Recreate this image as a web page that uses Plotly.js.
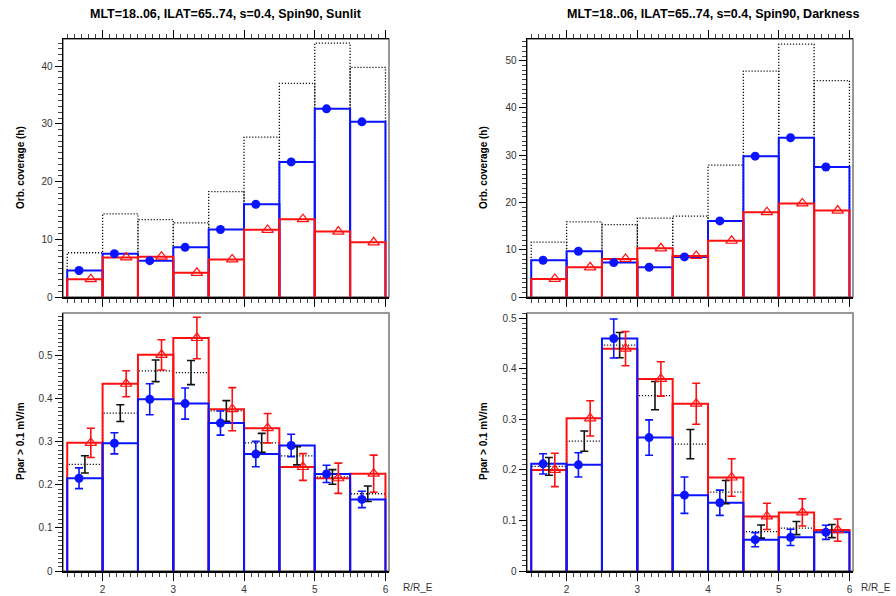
<!DOCTYPE html>
<html>
<head>
<meta charset="utf-8">
<script src="https://cdn.plot.ly/plotly-3.0.1.min.js"></script>
<style>html,body{margin:0;padding:0;background:#fff;}#chart{width:896px;height:596px;}</style>
</head>
<body>
<div id="chart"></div>
<script>
// ---- data ----
const binEdges = [1.5, 2, 2.5, 3, 3.5, 4, 4.5, 5, 5.5, 6];
const xTickVals = [2, 3, 4, 5, 6];

// Sunlit: orbital coverage (h)
const covTotalSun = [7.67, 14.4, 13.4, 12.85, 18.26, 27.7, 37.0, 44.0, 39.8];
const covBlueSun  = [4.6, 7.5, 6.3, 8.6, 11.7, 16.05, 23.4, 32.6, 30.35];
const covRedSun   = [3.08, 6.86, 6.98, 4.19, 6.51, 11.63, 13.49, 11.34, 9.48];
// Darkness: orbital coverage (h)
const covTotalDark = [11.6, 15.9, 15.3, 16.7, 17.1, 27.9, 47.8, 53.5, 45.8];
const covBlueDark  = [7.78, 9.69, 7.28, 6.29, 8.49, 16.1, 29.8, 33.7, 27.5];
const covRedDark   = [3.82, 6.29, 8.06, 10.3, 8.7, 11.9, 17.96, 19.8, 18.3];

// Sunlit: Ppar > 0.1 mV/m
const pTotalSun    = [0.247, 0.366, 0.464, 0.460, 0.371, 0.297, 0.267, 0.218, 0.179];
const pTotalSunErr = [0.020, 0.0195, 0.025, 0.028, 0.024, 0.022, 0.021, 0.017, 0.018];
const pBlueSun     = [0.215, 0.296, 0.398, 0.388, 0.343, 0.271, 0.291, 0.225, 0.166];
const pBlueSunErr  = [0.024, 0.0245, 0.036, 0.036, 0.028, 0.0295, 0.026, 0.020, 0.019];
const pRedSun      = [0.297, 0.434, 0.501, 0.540, 0.375, 0.331, 0.241, 0.215, 0.2255];
const pRedSunErr   = [0.034, 0.030, 0.035, 0.048, 0.050, 0.034, 0.031, 0.035, 0.043];
// Darkness: Ppar > 0.1 mV/m
const pTotalDark    = [0.207, 0.257, 0.447, 0.347, 0.251, 0.156, 0.078, 0.085, 0.079];
const pTotalDarkErr = [0.0175, 0.020, 0.025, 0.028, 0.029, 0.023, 0.013, 0.013, 0.013];
const pBlueDark     = [0.212, 0.210, 0.460, 0.264, 0.150, 0.135, 0.062, 0.0666, 0.0765];
const pBlueDarkErr  = [0.020, 0.024, 0.0385, 0.035, 0.036, 0.025, 0.014, 0.016, 0.014];
const pRedDark      = [0.200, 0.302, 0.440, 0.380, 0.331, 0.185, 0.108, 0.116, 0.081];
const pRedDarkErr   = [0.033, 0.035, 0.034, 0.034, 0.0405, 0.037, 0.026, 0.027, 0.022];

const titleSun  = 'MLT=18..06, ILAT=65..74, s=0.4, Spin90, Sunlit';
const titleDark = 'MLT=18..06, ILAT=65..74, s=0.4, Spin90, Darkness';
const yTitleCov = 'Orb. coverage (h)';
const yTitleP   = 'Ppar > 0.1 mV/m';
const xUnit     = 'R/R_E';

// ---- helpers ----
const BLUE = '#0a14ff', RED = '#ff1010', BLACK = '#111111';

function boxes(vals, color, dash, width, xa, ya) {
  const xs = [], ys = [];
  vals.forEach((v, i) => {
    const l = binEdges[i], r = binEdges[i + 1];
    xs.push(l, l, r, r, null);
    ys.push(0, v, v, 0, null);
  });
  return {type: 'scatter', mode: 'lines', x: xs, y: ys, xaxis: xa, yaxis: ya,
    line: {color: color, width: width, dash: dash}, hoverinfo: 'skip', showlegend: false, connectgaps: false};
}
function binPos(frac) {
  return binEdges.slice(0, -1).map((l, i) => l + frac * (binEdges[i + 1] - l));
}
function pts(vals, errs, frac, color, symbol, xa, ya, size, lw) {
  const t = {type: 'scatter', mode: 'markers', x: binPos(frac), y: vals, xaxis: xa, yaxis: ya,
    showlegend: false, hoverinfo: 'skip',
    marker: {color: color, size: size, symbol: symbol, line: {color: color, width: lw}}};
  if (errs) t.error_y = {type: 'data', array: errs, visible: true, color: color, thickness: 1.6, width: 4};
  return t;
}
function errOnly(vals, errs, frac, color, xa, ya) {
  return {type: 'scatter', mode: 'markers', x: binPos(frac), y: vals, xaxis: xa, yaxis: ya,
    showlegend: false, hoverinfo: 'skip', marker: {size: 1, color: 'rgba(0,0,0,0)'},
    error_y: {type: 'data', array: errs, visible: true, color: color, thickness: 1.6, width: 4}};
}
const DOT = '1.2px,1.8px';
function circ(v, e, xa, ya) { return pts(v, e, 1/3, BLUE, 'circle', xa, ya, 9, 0); }
function tri(v, e, xa, ya) { return pts(v, e, 2/3, RED, 'triangle-up-open', xa, ya, 10, 1.2); }

const traces = [
  // top-left
  boxes(covTotalSun, BLACK, DOT, 1.3, 'x', 'y'),
  boxes(covBlueSun, BLUE, 'solid', 2, 'x', 'y'),
  boxes(covRedSun, RED, 'solid', 2, 'x', 'y'),
  circ(covBlueSun, null, 'x', 'y'),
  tri(covRedSun, null, 'x', 'y'),
  // top-right
  boxes(covTotalDark, BLACK, DOT, 1.3, 'x2', 'y2'),
  boxes(covBlueDark, BLUE, 'solid', 2, 'x2', 'y2'),
  boxes(covRedDark, RED, 'solid', 2, 'x2', 'y2'),
  circ(covBlueDark, null, 'x2', 'y2'),
  tri(covRedDark, null, 'x2', 'y2'),
  // bottom-left
  boxes(pTotalSun, BLACK, DOT, 1.3, 'x3', 'y3'),
  boxes(pRedSun, RED, 'solid', 2, 'x3', 'y3'),
  boxes(pBlueSun, BLUE, 'solid', 2, 'x3', 'y3'),
  errOnly(pTotalSun, pTotalSunErr, 1/2, BLACK, 'x3', 'y3'),
  circ(pBlueSun, pBlueSunErr, 'x3', 'y3'),
  tri(pRedSun, pRedSunErr, 'x3', 'y3'),
  // bottom-right
  boxes(pTotalDark, BLACK, DOT, 1.3, 'x4', 'y4'),
  boxes(pRedDark, RED, 'solid', 2, 'x4', 'y4'),
  boxes(pBlueDark, BLUE, 'solid', 2, 'x4', 'y4'),
  errOnly(pTotalDark, pTotalDarkErr, 1/2, BLACK, 'x4', 'y4'),
  circ(pBlueDark, pBlueDarkErr, 'x4', 'y4'),
  tri(pRedDark, pRedDarkErr, 'x4', 'y4'),
];

const W = 896, H = 596;
const tickFont = {family: 'Liberation Sans, Arial, sans-serif', size: 10, color: '#333'};
const domL = [63 / W, 389 / W], domR = [527 / W, 853 / W];
const domTop = [(H - 297) / H, (H - 39) / H], domBot = [(H - 571) / H, (H - 313) / H];

function xax(dom, anchor, top) {
  return {domain: dom, anchor: anchor, range: [1.44, 6.05], tickmode: 'array', tickvals: xTickVals,
    showticklabels: !top, ticks: 'outside', ticklen: 8, tickwidth: 1, tickcolor: '#000',
    minor: {dtick: 0.1, tick0: 1.5, ticks: 'outside', ticklen: 4, tickcolor: '#444', tickwidth: 1},
    showline: true, linecolor: '#000', linewidth: 1.5, mirror: top ? 'ticks' : false,
    showgrid: false, zeroline: false, tickfont: tickFont, fixedrange: true};
}
function yax(dom, anchor, range, dtick, mdtick) {
  return {domain: dom, anchor: anchor, range: range, dtick: dtick, tick0: 0,
    ticks: 'outside', ticklen: 7, tickwidth: 1, tickcolor: '#000',
    minor: {dtick: mdtick, tick0: 0, ticks: 'outside', ticklen: 4, tickcolor: '#444', tickwidth: 1},
    showline: true, linecolor: '#000', linewidth: 1.5, mirror: false,
    showgrid: false, zeroline: false, tickfont: tickFont, fixedrange: true};
}
function frame(xa, ya) {
  return {type: 'rect', xref: xa + ' domain', yref: ya + ' domain', x0: 0, x1: 1, y0: 0, y1: 1,
    line: {color: '#777', width: 1.5}, layer: 'below'};
}

const titleFont = {family: 'Liberation Sans Narrow, Arial Narrow, Liberation Sans, Arial', size: 12.5, color: '#000', weight: 'bold'};
const axTitleFont = {family: 'Liberation Sans, Arial, sans-serif', size: 10, color: '#000', weight: 'bold'};

const layout = {
  width: W, height: H, margin: {l: 0, r: 0, t: 0, b: 0},
  paper_bgcolor: '#fff', plot_bgcolor: '#fff', showlegend: false,
  xaxis: xax(domL, 'y', true),
  yaxis: yax(domTop, 'x', [0, 44.7], 10, 1),
  xaxis2: xax(domR, 'y2', true),
  yaxis2: yax(domTop, 'x2', [0, 54.6], 10, 1),
  xaxis3: xax(domL, 'y3', false),
  yaxis3: yax(domBot, 'x3', [0, 0.598], 0.1, 0.01),
  xaxis4: xax(domR, 'y4', false),
  yaxis4: yax(domBot, 'x4', [0, 0.5105], 0.1, 0.01),
  shapes: [frame('x', 'y'), frame('x2', 'y2'), frame('x3', 'y3'), frame('x4', 'y4')],
  annotations: [
    {text: titleSun, xref: 'paper', yref: 'paper', x: 226 / W, y: (H - 14) / H, showarrow: false, font: titleFont, xanchor: 'center', yanchor: 'middle'},
    {text: titleDark, xref: 'paper', yref: 'paper', x: 713 / W, y: (H - 14) / H, showarrow: false, font: titleFont, xanchor: 'center', yanchor: 'middle'},
    {text: yTitleCov, xref: 'paper', yref: 'paper', x: 20 / W, y: (H - 168) / H, textangle: -90, showarrow: false, font: axTitleFont, xanchor: 'center', yanchor: 'middle'},
    {text: yTitleCov, xref: 'paper', yref: 'paper', x: 483 / W, y: (H - 168) / H, textangle: -90, showarrow: false, font: axTitleFont, xanchor: 'center', yanchor: 'middle'},
    {text: yTitleP, xref: 'paper', yref: 'paper', x: 20 / W, y: (H - 441) / H, textangle: -90, showarrow: false, font: axTitleFont, xanchor: 'center', yanchor: 'middle'},
    {text: yTitleP, xref: 'paper', yref: 'paper', x: 483 / W, y: (H - 441) / H, textangle: -90, showarrow: false, font: axTitleFont, xanchor: 'center', yanchor: 'middle'},
    {text: xUnit, xref: 'paper', yref: 'paper', x: 418 / W, y: (H - 587) / H, showarrow: false, font: tickFont, xanchor: 'center', yanchor: 'middle'},
    {text: xUnit, xref: 'paper', yref: 'paper', x: 876 / W, y: (H - 587) / H, showarrow: false, font: tickFont, xanchor: 'center', yanchor: 'middle'},
  ],
};

Plotly.newPlot('chart', traces, layout, {displayModeBar: false, staticPlot: true});
</script>
</body>
</html>
